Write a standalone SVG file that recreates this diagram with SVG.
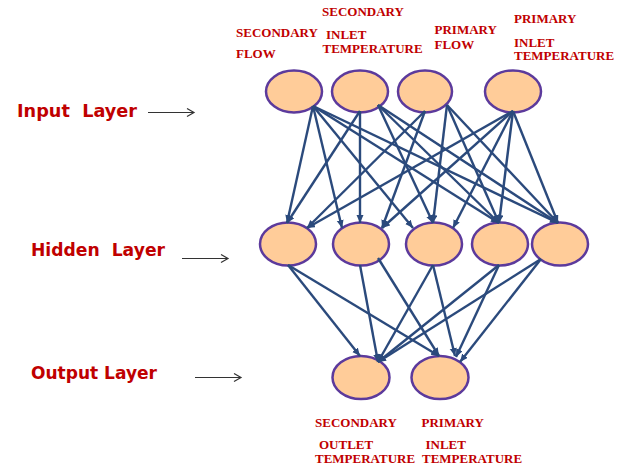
<svg xmlns="http://www.w3.org/2000/svg" width="638" height="469" viewBox="0 0 638 469">
<style>
.node{fill:#FFCC99;stroke:#5C3A9C;stroke-width:2.5}
.lab{font-family:"Liberation Serif","Times New Roman",serif;font-weight:bold;font-size:13px;fill:#C00000}
.layer{font-family:"DejaVu Sans",Verdana,sans-serif;font-weight:bold;font-size:17px;fill:#C00000}
.c{stroke:#2B4A7C;stroke-width:2.4;fill:none;marker-end:url(#ah)}
.pt{stroke:#333;stroke-width:1.2;fill:none;marker-end:url(#open)}
</style>
<defs>
<marker id="ah" markerUnits="userSpaceOnUse" markerWidth="9" markerHeight="8" refX="8" refY="3.5" orient="auto">
<path d="M0,0 L8,3.5 L0,7 z" fill="#2B4A7C"/>
</marker>
<marker id="open" markerUnits="userSpaceOnUse" markerWidth="10" markerHeight="10" refX="8" refY="5" orient="auto">
<path d="M1,1 L8,5 L1,9" fill="none" stroke="#333" stroke-width="1.2"/>
</marker>
</defs>
<rect width="638" height="469" fill="#fff"/>

<g id="labels-left">
<text class="layer" x="17" y="117" xml:space="preserve" textLength="120" lengthAdjust="spacingAndGlyphs">Input  Layer</text>
<line class="pt" x1="148" y1="112.5" x2="194" y2="112.5"/>
<text class="layer" x="31" y="256" xml:space="preserve" textLength="134" lengthAdjust="spacingAndGlyphs">Hidden  Layer</text>
<line class="pt" x1="182" y1="258.5" x2="228" y2="258.5"/>
<text class="layer" x="31" y="379" textLength="126" lengthAdjust="spacingAndGlyphs">Output Layer</text>
<line class="pt" x1="195" y1="377.5" x2="241" y2="377.5"/>
</g>

<g id="labels-top">
<text class="lab" x="236" y="37">SECONDARY</text>
<text class="lab" x="236" y="58">FLOW</text>
<text class="lab" x="322" y="16">SECONDARY</text>
<text class="lab" x="326" y="39">INLET</text>
<text class="lab" x="322.5" y="53">TEMPERATURE</text>
<text class="lab" x="434.5" y="34">PRIMARY</text>
<text class="lab" x="434.5" y="49">FLOW</text>
<text class="lab" x="514" y="23">PRIMARY</text>
<text class="lab" x="514" y="46.5">INLET</text>
<text class="lab" x="514" y="60">TEMPERATURE</text>
</g>

<g id="labels-bottom">
<text class="lab" x="315" y="426.5">SECONDARY</text>
<text class="lab" x="319" y="449">OUTLET</text>
<text class="lab" x="315" y="463">TEMPERATURE</text>
<text class="lab" x="421.5" y="426.5">PRIMARY</text>
<text class="lab" x="425.5" y="449">INLET</text>
<text class="lab" x="422" y="463">TEMPERATURE</text>
</g>

<g id="in1"><ellipse class="node" cx="294" cy="91.5" rx="28" ry="21"/></g>
<g id="in2"><ellipse class="node" cx="360" cy="91.5" rx="28" ry="21"/></g>
<g id="in3"><ellipse class="node" cx="425" cy="91.5" rx="27" ry="21"/></g>
<g id="in4"><ellipse class="node" cx="513" cy="91.5" rx="28" ry="21"/></g>

<g id="h1"><ellipse class="node" cx="288" cy="244" rx="28" ry="21.5"/></g>
<g id="h2"><ellipse class="node" cx="361" cy="244" rx="28" ry="21.5"/></g>
<g id="h3"><ellipse class="node" cx="434" cy="244" rx="28" ry="21.5"/></g>
<g id="h4"><ellipse class="node" cx="500" cy="244" rx="28" ry="21.5"/></g>
<g id="h5"><ellipse class="node" cx="560" cy="244" rx="28" ry="21.5"/></g>

<g id="o1"><ellipse class="node" cx="361" cy="377.5" rx="28.5" ry="21.5"/></g>
<g id="o2"><ellipse class="node" cx="440" cy="377.5" rx="28.5" ry="21.5"/></g>

<g id="connectors">
<line class="c" x1="313" y1="106" x2="287" y2="223"/>
<line class="c" x1="313" y1="106" x2="342" y2="228"/>
<line class="c" x1="313" y1="106" x2="413" y2="228"/>
<line class="c" x1="313" y1="106" x2="499" y2="223"/>
<line class="c" x1="313" y1="106" x2="558" y2="223"/>

<line class="c" x1="360" y1="111" x2="287" y2="223"/>
<line class="c" x1="360" y1="111" x2="360" y2="223"/>
<line class="c" x1="378" y1="105" x2="433" y2="223"/>
<line class="c" x1="378" y1="105" x2="499" y2="223"/>
<line class="c" x1="378" y1="105" x2="558" y2="223"/>

<line class="c" x1="425" y1="111" x2="307" y2="228"/>
<line class="c" x1="425" y1="111" x2="382" y2="228"/>
<line class="c" x1="447" y1="105" x2="433" y2="223"/>
<line class="c" x1="447" y1="105" x2="499" y2="223"/>
<line class="c" x1="447" y1="105" x2="558" y2="223"/>

<line class="c" x1="513" y1="111" x2="307" y2="228"/>
<line class="c" x1="513" y1="111" x2="382" y2="228"/>
<line class="c" x1="513" y1="111" x2="453" y2="228"/>
<line class="c" x1="513" y1="111" x2="499" y2="223"/>
<line class="c" x1="513" y1="111" x2="558" y2="223"/>

<line class="c" x1="288" y1="265" x2="360" y2="356"/>
<line class="c" x1="288" y1="265" x2="439" y2="356"/>
<line class="c" x1="360" y1="265" x2="378" y2="362"/>
<line class="c" x1="378" y1="258" x2="439" y2="356"/>
<line class="c" x1="433" y1="265" x2="378" y2="362"/>
<line class="c" x1="433" y1="265" x2="455" y2="356"/>
<line class="c" x1="499" y1="265" x2="378" y2="362"/>
<line class="c" x1="499" y1="265" x2="456" y2="357"/>
<line class="c" x1="541" y1="259" x2="378" y2="362"/>
<line class="c" x1="541" y1="259" x2="460" y2="362"/>
</g>
</svg>
